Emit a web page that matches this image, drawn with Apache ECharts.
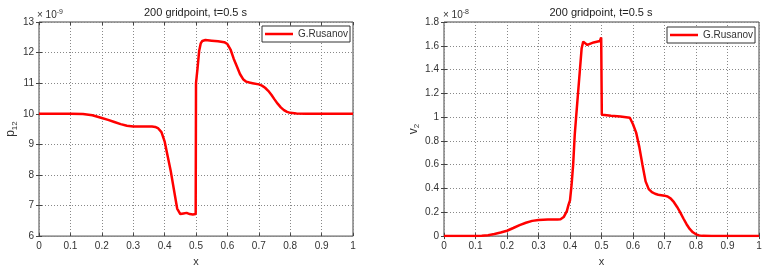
<!DOCTYPE html>
<html><head><meta charset="utf-8">
<script src="https://cdn.jsdelivr.net/npm/echarts@6/dist/echarts.min.js"></script>
<style>html,body{margin:0;padding:0;background:#fff}#c{width:773px;height:272px}</style>
</head><body><div id="c"></div>
<script>
// ---- data ----
const titleText = '200 gridpoint, t=0.5 s';
const seriesName = 'G.Rusanov';
// left panel: p12 (x 1e-9)
const pX = [0,0.05,0.1,0.14,0.17,0.2,0.22,0.24,0.26,0.28,0.3,0.33,0.36,0.37,0.38,0.39,0.4,0.41,0.42,0.43,0.44,0.45,0.46,0.47,0.48,0.49,0.499,0.5,0.502,0.505,0.51,0.515,0.52,0.525,0.53,0.55,0.57,0.59,0.6,0.61,0.62,0.63,0.64,0.65,0.66,0.67,0.68,0.7,0.71,0.72,0.73,0.74,0.75,0.76,0.77,0.78,0.79,0.8,0.82,0.85,0.9,1];
const pY = [10,10,10,9.99,9.95,9.86,9.8,9.73,9.66,9.61,9.58,9.58,9.58,9.57,9.52,9.4,9.1,8.6,8.1,7.5,6.9,6.72,6.74,6.76,6.72,6.71,6.72,11.0,11.2,11.5,12.05,12.3,12.38,12.4,12.41,12.39,12.37,12.34,12.28,12.1,11.8,11.55,11.3,11.13,11.05,11.02,11.0,10.96,10.92,10.85,10.75,10.62,10.47,10.33,10.21,10.12,10.06,10.03,10.01,10,10,10];
// right panel: v2 (x 1e-8)
const vX = [0,0.1,0.12,0.14,0.16,0.18,0.2,0.22,0.24,0.26,0.28,0.3,0.33,0.36,0.37,0.38,0.39,0.395,0.4,0.405,0.41,0.415,0.42,0.43,0.437,0.442,0.455,0.475,0.495,0.499,0.501,0.51,0.53,0.56,0.59,0.6,0.61,0.62,0.63,0.64,0.65,0.66,0.67,0.68,0.7,0.71,0.72,0.73,0.74,0.75,0.76,0.77,0.78,0.79,0.8,0.81,0.82,0.85,0.9,1];
const vY = [0,0,0.002,0.008,0.018,0.03,0.045,0.068,0.092,0.112,0.128,0.136,0.14,0.14,0.142,0.16,0.21,0.26,0.3,0.43,0.6,0.85,1.02,1.35,1.58,1.635,1.607,1.628,1.64,1.67,1.02,1.018,1.012,1.005,0.995,0.94,0.87,0.75,0.6,0.46,0.395,0.37,0.356,0.348,0.34,0.333,0.315,0.285,0.245,0.2,0.148,0.1,0.06,0.032,0.015,0.006,0.002,0,0,0];
const xRange = [0, 1, 0.1];
const pRange = [6, 13, 1];
const vRange = [0, 1.8, 0.2];

const FONT = 'Liberation Sans, Arial, Helvetica, sans-serif';
const TXT = '#333';
const zip = (a, b) => a.map((v, i) => [v, b[i]]);
const fmt = v => String(+v.toFixed(1));

const grids = [
  {left: 39, right: 420, top: 22, bottom: 30},
  {left: 444, right: 14, top: 22, bottom: 30}
];
const gridStyle = {show: true, borderColor: '#444', borderWidth: 1, backgroundColor: '#fff'};

function mainX(gi) {
  return {
    type: 'value', gridIndex: gi, min: xRange[0], max: xRange[1], interval: xRange[2],
    name: 'x', nameLocation: 'middle', nameGap: 14,
    nameTextStyle: {fontFamily: FONT, fontSize: 11, color: TXT},
    axisLine: {show: false},
    axisTick: {show: true, inside: true, length: 3, lineStyle: {color: '#444'}},
    axisLabel: {fontFamily: FONT, fontSize: 10, color: TXT, margin: 5, formatter: fmt},
    splitLine: {show: true, lineStyle: {color: '#888', type: [1, 2], width: 1}}
  };
}
function topX(gi) {
  return {
    type: 'value', gridIndex: gi, position: 'top', min: xRange[0], max: xRange[1], interval: xRange[2],
    axisLine: {show: false}, axisLabel: {show: false}, splitLine: {show: false},
    axisTick: {show: true, inside: true, length: 3, lineStyle: {color: '#444'}}
  };
}
function mainY(gi, r, nm, gap) {
  return {
    type: 'value', gridIndex: gi, min: r[0], max: r[1], interval: r[2],
    name: nm, nameLocation: 'middle', nameRotate: 90, nameGap: gap,
    nameTextStyle: {fontFamily: FONT, color: TXT,
      rich: {a: {fontFamily: FONT, fontSize: 12, lineHeight: 16, color: TXT},
             b: {fontFamily: FONT, fontSize: 8, lineHeight: 6, verticalAlign: 'bottom', color: TXT}}},
    axisLine: {show: false},
    axisTick: {show: true, inside: true, length: 3, lineStyle: {color: '#444'}},
    axisLabel: {fontFamily: FONT, fontSize: 10, color: TXT, margin: 5, formatter: fmt},
    splitLine: {show: true, lineStyle: {color: '#888', type: [1, 2], width: 1}}
  };
}
function rightY(gi, r) {
  return {
    type: 'value', gridIndex: gi, position: 'right', min: r[0], max: r[1], interval: r[2],
    axisLine: {show: false}, axisLabel: {show: false}, splitLine: {show: false},
    axisTick: {show: true, inside: true, length: 3, lineStyle: {color: '#444'}}
  };
}
function legend(left, top) {
  return {
    data: [{name: seriesName, icon: 'rect'}], left: left, top: top, orient: 'horizontal',
    backgroundColor: '#fff', borderColor: '#333', borderWidth: 1, borderRadius: 0,
    padding: [2, 2, 2, 3], itemWidth: 28, itemHeight: 2.5, itemGap: 0,
    selectedMode: false,
    itemStyle: {color: '#ff0000', borderWidth: 0},
    lineStyle: {opacity: 0},
    textStyle: {fontFamily: FONT, fontSize: 10, color: TXT, lineHeight: 12}
  };
}
function textEl(x, y, text, size, align) {
  return {type: 'text', x: x, y: y, z: 100,
    style: {text: text, fontFamily: FONT, fontSize: size, fill: '#222', align: align, verticalAlign: 'middle'}};
}
function expEl(x, y, exp) {
  return {type: 'text', x: x, y: y, z: 100,
    style: {text: '{a|× 10}{b|' + exp + '}', align: 'left', verticalAlign: 'middle',
      rich: {a: {fontFamily: FONT, fontSize: 10, lineHeight: 14, fill: TXT, color: TXT},
             b: {fontFamily: FONT, fontSize: 7, lineHeight: 7, verticalAlign: 'top', fill: TXT, color: TXT}}}};
}

const chart = echarts.init(document.getElementById('c'), null, {renderer: 'canvas'});
chart.setOption({
  animation: false,
  backgroundColor: '#fff',
  grid: grids.map(g => Object.assign({}, g, gridStyle)),
  xAxis: [mainX(0), mainX(1), topX(0), topX(1)],
  yAxis: [mainY(0, pRange, '{a|p}{b|12}', 18), mainY(1, vRange, '{a|v}{b|2}', 20), rightY(0, pRange), rightY(1, vRange)],
  legend: [legend(262, 26), legend(667, 27)],
  graphic: [
    textEl(195.5, 12.5, titleText, 11, 'center'),
    textEl(601, 12.5, titleText, 11, 'center'),
    expEl(37, 15.5, '-9'),
    expEl(443, 15.5, '-8')
  ],
  series: [
    {name: seriesName, type: 'line', xAxisIndex: 0, yAxisIndex: 0, data: zip(pX, pY),
     symbol: 'none', showSymbol: false, lineStyle: {color: '#ff0000', width: 2.5}, itemStyle: {color: '#ff0000'}},
    {name: seriesName, type: 'line', xAxisIndex: 1, yAxisIndex: 1, data: zip(vX, vY),
     symbol: 'none', showSymbol: false, lineStyle: {color: '#ff0000', width: 2.5}, itemStyle: {color: '#ff0000'}}
  ]
});
</script>
</body></html>
